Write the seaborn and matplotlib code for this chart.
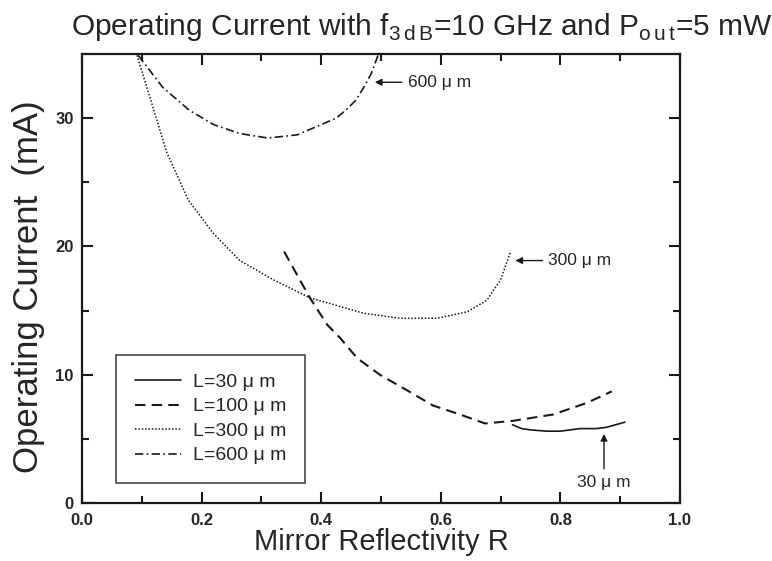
# Operating current vs mirror reflectivity for several cavity lengths
import numpy as np
import pandas as pd
import seaborn as sns
import matplotlib
matplotlib.use('Agg')
import matplotlib.pyplot as plt
from matplotlib.ticker import MultipleLocator

# values
r_30 = [0.72, 0.735, 0.75, 0.777, 0.80, 0.833, 0.86, 0.877, 0.908]
i_30 = [6.1, 5.8, 5.7, 5.6, 5.6, 5.8, 5.8, 5.9, 6.3]

r_100 = [0.338, 0.381, 0.41, 0.431, 0.46, 0.498, 0.543, 0.587, 0.632, 0.674,
         0.72, 0.788, 0.844, 0.886]
i_100 = [19.6, 16.0, 13.9, 12.9, 11.3, 10.0, 8.8, 7.6, 6.9, 6.2,
         6.4, 6.9, 7.8, 8.7]

r_300 = [0.092, 0.142, 0.178, 0.22, 0.264, 0.32, 0.381, 0.47, 0.532, 0.594,
         0.644, 0.677, 0.70, 0.716]
i_300 = [34.9, 27.3, 23.6, 21.0, 18.9, 17.4, 16.0, 14.8, 14.4, 14.4,
         14.9, 15.8, 17.4, 19.5]

r_600 = [0.094, 0.135, 0.18, 0.22, 0.264, 0.311, 0.36, 0.40, 0.425, 0.443, 0.458, 0.47, 0.484, 0.495]
i_600 = [34.9, 32.4, 30.6, 29.5, 28.8, 28.45, 28.7, 29.5, 30.0, 30.7, 31.4, 32.3, 33.5, 34.9]

labels = ['L=30 \u03bc m', 'L=100 \u03bc m', 'L=300 \u03bc m', 'L=600 \u03bc m']

sns.set_theme(style='ticks')
plt.rcParams['font.family'] = ['Liberation Sans', 'DejaVu Sans']

fig = plt.figure(figsize=(7.72, 5.61), dpi=100)
ax = fig.add_axes([0.1062, 0.1034, 0.7746, 0.8003])

series = [(r_30, i_30, '-', 1.2), (r_100, i_100, (0, (5, 3)), 1.5),
          (r_300, i_300, (0, (1, 1.2)), 1.1), (r_600, i_600, (0, (5, 2, 1, 2)), 1.2)]
for (r, cur, ls, lw), lab in zip(series, labels):
    df = pd.DataFrame({'R': r, 'I': cur})
    sns.lineplot(data=df, x='R', y='I', ax=ax, color='k', linestyle=ls,
                 linewidth=lw, label=lab, sort=False)

ax.set_xlim(0, 1.0)
ax.set_ylim(0, 35)
ax.xaxis.set_minor_locator(MultipleLocator(0.1))
ax.yaxis.set_major_locator(MultipleLocator(10))
ax.yaxis.set_minor_locator(MultipleLocator(5))
ax.set_xticks(np.arange(0, 1.01, 0.2))
ax.set_xticklabels(['0.0', '0.2', '0.4', '0.6', '0.8', '1.0'])
ax.tick_params(which='both', direction='in', top=True, right=True, width=1.5,
               color='k')
ax.tick_params(which='major', length=8, labelsize=12)
ax.tick_params(axis='x', which='major', pad=7)
ax.tick_params(axis='y', which='major', pad=6)
ax.tick_params(which='minor', length=5)
for t in ax.get_xticklabels() + ax.get_yticklabels():
    t.set_fontweight('bold')
for s in ax.spines.values():
    s.set_linewidth(1.6)
    s.set_color('k')

ax.set_xlabel('Mirror Reflectivity R', fontsize=21, labelpad=0)
ax.set_ylabel('Operating Current  (mA)', fontsize=25)
ax.yaxis.set_label_coords(-0.062, 0.481)
fig.text(0.547, 0.952,
         r'Operating Current with f$_{\mathregular{3\,d\,B}}$=10 GHz and P$_{\mathregular{o\,u\,t}}$=5 mW',
         fontsize=21.5, ha='center', va='center')

leg = ax.legend(loc='lower left', bbox_to_anchor=(0.057, 0.045), fontsize=14,
                frameon=True, fancybox=False, edgecolor='k', handlelength=2.4,
                labelspacing=0.35, borderpad=0.95, handletextpad=0.6,
                borderaxespad=0)
leg.get_frame().set_linewidth(1.2)

arrow = dict(arrowstyle='-|>', color='k', lw=1.0, mutation_scale=10)
ax.annotate('600 \u03bc m', xy=(0.485, 32.8), xytext=(0.545, 32.8), fontsize=12.5,
            va='center', ha='left', arrowprops=arrow)
ax.annotate('300 \u03bc m', xy=(0.72, 18.9), xytext=(0.78, 18.9), fontsize=12.5,
            va='center', ha='left', arrowprops=arrow)
ax.annotate('30 \u03bc m', xy=(0.873, 5.6), xytext=(0.873, 1.6), fontsize=12.5,
            va='center', ha='center', arrowprops=arrow)

fig.savefig('out.png', dpi=100)
